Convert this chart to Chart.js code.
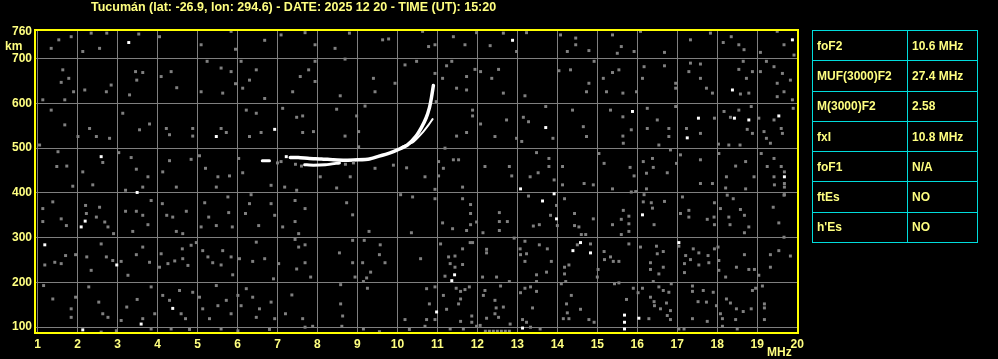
<!DOCTYPE html>
<html>
<head>
<meta charset="utf-8">
<script src="https://cdn.jsdelivr.net/npm/chart.js@4.4.1/dist/chart.umd.min.js"></script>
<style>
  html, body { margin: 0; padding: 0; background: #000; }
  #wrap { position: relative; width: 998px; height: 359px; background: #000; overflow: hidden; }
  #ionogram { position: absolute; left: 0; top: 0; }
  .lbl { position: absolute; color: #ffff80; font: bold 12px "Liberation Sans", Arial, sans-serif; line-height: 14px; white-space: nowrap; }
  #title { left: 91px; top: 0; font-size: 12.5px; }
  #km { left: 5px; top: 39px; }
  #mhz { left: 767px; top: 345px; }
  #params { position: absolute; left: 812px; top: 30px; border-collapse: collapse; table-layout: fixed; }
  #params td { border: 1px solid #00dcdc; height: 29.3px; padding: 0 0 0 4px; color: #ffff80;
               font: bold 12px "Liberation Sans", Arial, sans-serif; white-space: nowrap; }
  #params td.k { width: 90px; }
  #params td.v { width: 65px; }
</style>
</head>
<body>
<div id="wrap">
  <canvas id="ionogram" width="998" height="359"></canvas>
  <div class="lbl" id="title">Tucumán (lat: -26.9, lon: 294.6) - DATE: 2025 12 20 - TIME (UT): 15:20</div>
  <div class="lbl" id="km">km</div>
  <div class="lbl" id="mhz">MHz</div>
  <table id="params"></table>
</div>
<script>
// ionogram Tucumán
const freqTicks = [1, 2, 3, 4, 5, 6, 7, 8, 9, 10, 11, 12, 13, 14, 15, 16, 17, 18, 19, 20];
const heightTicks = [100, 200, 300, 400, 500, 600, 700, 760];

const paramNames = ['foF2', 'MUF(3000)F2', 'M(3000)F2', 'fxI', 'foF1', 'ftEs', "h'Es"];
const paramValues = ['10.6 MHz', '27.4 MHz', '2.58', '10.8 MHz', 'N/A', 'NO', 'NO'];

// traza F2 [MHz, km]
const traceStart = [[6.62, 472], [6.80, 472]];
const traceMain = [[7.32, 479], [7.52, 479], [7.8, 477], [8.1, 476], [8.4, 474], [8.7, 473], [9.0, 474],
  [9.3, 476], [9.5, 481], [9.8, 489], [10.0, 496], [10.25, 507], [10.45, 525], [10.6, 546],
  [10.72, 568], [10.8, 590], [10.85, 612], [10.9, 640]];
const traceLower = [[7.68, 463], [7.9, 462], [8.2, 463], [8.55, 467]];
const traceX = [[10.11, 503], [10.4, 514], [10.61, 533], [10.78, 552], [10.88, 565]];

const whiteEchoes = [[3.28, 736], [2.59, 481], [5.47, 526], [6.93, 542], [7.22, 481], [12.88, 741], [19.88, 742],
  [18.38, 630], [15.88, 582], [17.25, 523], [17.53, 567], [18.43, 567], [18.79, 563], [19.54, 572], [13.71, 546],
  [19.68, 436], [1.18, 284], [2.19, 337], [2.09, 324], [2.98, 239], [3.49, 401], [3.59, 107], [4.38, 142], [2.13, 94],
  [13.08, 409], [13.63, 382], [11.36, 204], [11.43, 217], [10.98, 134], [13.13, 98], [13.92, 398], [13.98, 342],
  [14.39, 271], [14.58, 289], [14.83, 266], [15.68, 127], [15.68, 111], [15.68, 96], [16.04, 120], [16.13, 351], [17.04, 289]];

const grayEchoes = [
  [1.53, 742], [1.84, 749], [2.34, 757], [2.73, 757], [3.53, 755], [4.05, 749], [5.09, 731], [5.84, 761], [5.95, 721], [6.68, 741],
  [7.09, 753], [1.34, 723], [2.13, 716], [2.55, 723], [1.63, 675], [1.59, 647], [1.78, 656], [1.9, 626], [1.68, 608], [1.13, 608],
  [2.18, 630], [2.72, 626], [2.84, 641], [3.3, 619], [3.45, 671], [3.63, 669], [3.48, 652], [4.09, 660], [4.34, 671], [4.48, 635],
  [5.09, 626], [5.24, 694], [5.59, 679], [5.84, 671], [5.63, 623], [5.95, 644], [6.13, 634], [6.3, 652], [6.47, 675], [6.68, 611],
  [6.09, 694], [1.34, 585], [1.68, 552], [2.3, 544], [2.01, 526], [2.47, 526], [2.8, 522], [3.13, 578], [3.55, 541], [3.8, 554],
  [4.22, 544], [4.3, 530], [4.88, 544], [4.88, 527], [5.72, 535], [5.59, 544], [6.3, 526], [6.59, 535], [7.13, 589], [6.22, 585],
  [6.47, 578], [1.05, 507], [1.51, 492], [1.48, 459], [1.73, 460], [2.13, 447], [2.63, 468], [3.03, 490], [3.34, 479], [3.47, 453],
  [3.76, 436], [4.13, 447], [4.3, 472], [4.84, 475], [5.05, 483], [5.2, 455], [5.51, 436], [5.8, 438], [6.03, 477], [6.13, 445],
  [7.09, 470], [7.0, 467], [7.45, 464], [7.6, 460], [8.7, 464], [8.9, 467],
  [7.69, 758], [7.94, 731], [8.44, 723], [8.8, 757], [9.63, 742], [9.78, 744], [10.63, 761], [10.78, 727], [10.94, 731], [11.4, 749],
  [11.69, 731], [11.98, 758], [12.32, 729], [12.65, 757], [12.98, 716], [13.23, 758], [7.94, 694], [7.57, 660], [7.78, 675], [7.94, 649],
  [8.69, 699], [9.4, 656], [9.44, 626], [9.94, 645], [10.19, 686], [10.48, 694], [10.94, 667], [11.13, 656], [11.23, 684], [11.36, 694],
  [11.73, 660], [11.48, 634], [11.73, 630], [11.94, 676], [12.08, 671], [12.36, 656], [12.53, 676], [12.65, 623], [13.19, 617], [7.38, 626],
  [8.57, 617], [7.48, 569], [7.63, 572], [8.48, 587], [8.98, 572], [9.19, 594], [7.63, 535], [7.9, 537], [9.03, 537], [8.69, 527],
  [10.97, 604], [11.88, 585], [11.88, 572], [12.08, 554], [12.44, 526], [12.73, 563], [13.15, 569], [13.28, 559], [12.98, 522], [13.11, 515],
  [11.73, 535], [11.48, 527], [11.19, 500], [11.03, 470], [11.15, 455], [11.03, 438], [11.4, 474], [11.53, 474], [12.19, 459], [12.8, 459],
  [12.86, 438], [13.52, 445], [13.32, 436], [13.48, 490], [9.03, 503], [9.9, 462], [10.23, 456], [10.69, 436], [8.07, 436], [8.82, 436], [9.44, 455],
  [14.08, 753], [14.46, 746], [14.46, 731], [14.25, 716], [14.79, 718], [15.38, 753], [15.6, 727], [15.5, 712], [15.92, 716], [16.08, 761],
  [16.68, 714], [17.33, 742], [17.83, 757], [18.15, 736], [18.35, 749], [18.54, 731], [18.67, 720], [19.08, 714], [19.5, 761], [19.67, 731],
  [19.92, 708], [14.04, 673], [14.33, 675], [14.79, 645], [14.73, 626], [14.92, 694], [15.38, 669], [15.15, 656], [15.54, 675], [15.23, 626],
  [15.64, 623], [15.98, 626], [16.17, 682], [16.13, 656], [16.68, 684], [16.96, 645], [16.96, 634], [17.33, 690], [17.58, 688], [17.29, 671],
  [17.58, 656], [17.73, 634], [17.88, 623], [18.54, 676], [18.73, 656], [18.65, 694], [18.88, 671], [18.58, 621], [18.79, 623], [19.08, 671],
  [19.23, 694], [19.42, 682], [19.63, 667], [19.5, 645], [19.5, 615], [19.83, 652], [19.88, 608], [19.67, 626], [13.71, 593], [14.38, 585],
  [14.65, 548], [14.73, 526], [13.89, 522], [15.33, 585], [15.64, 570], [15.85, 541], [15.64, 527], [15.65, 511], [16.25, 589], [16.5, 563],
  [16.25, 544], [16.79, 544], [16.79, 526], [16.54, 507], [16.96, 593], [17.23, 544], [17.58, 533], [17.93, 567], [18.17, 582], [18.33, 569],
  [18.54, 585], [18.85, 593], [18.75, 542], [18.88, 533], [19.04, 567], [19.17, 537], [19.23, 522], [19.33, 511], [19.42, 563], [19.6, 544],
  [19.63, 533], [19.9, 589], [18.57, 507], [18.29, 507], [18.03, 509], [13.79, 477], [13.79, 459], [13.92, 429], [14.13, 459], [15.04, 488],
  [15.17, 466], [15.82, 457], [15.92, 438], [16.15, 470], [16.23, 444], [16.38, 477], [16.4, 457], [16.75, 445], [16.83, 496], [16.98, 466],
  [17.08, 485], [17.58, 474], [18.04, 488], [18.23, 436], [18.46, 460], [18.71, 470], [18.92, 436], [19.1, 488], [19.25, 459], [19.42, 477],
  [19.6, 459], [19.42, 436], [19.68, 447],
  [1.88, 415], [2.38, 418], [3.2, 406], [3.63, 413], [4.47, 413], [5.47, 413], [6.34, 396], [6.84, 417], [7.18, 413], [1.38, 380],
  [1.13, 365], [1.13, 336], [1.72, 327], [1.59, 342], [2.2, 372], [2.22, 354], [2.47, 346], [2.55, 368], [2.68, 335], [2.76, 324],
  [2.9, 309], [3.2, 359], [3.47, 359], [3.63, 350], [3.76, 329], [3.38, 314], [3.84, 383], [4.12, 376], [4.23, 350], [4.38, 346],
  [4.63, 309], [4.72, 359], [4.47, 314], [5.09, 324], [5.18, 378], [5.28, 346], [5.47, 327], [5.76, 391], [5.78, 356], [5.87, 324],
  [6.2, 354], [6.3, 376], [6.53, 327], [6.84, 376], [6.93, 350], [7.13, 324], [1.18, 239], [1.59, 242], [1.43, 245], [1.7, 260],
  [1.95, 262], [2.23, 257], [2.34, 227], [2.59, 286], [2.72, 257], [2.88, 249], [3.09, 247], [3.26, 216], [3.47, 262], [3.63, 279],
  [3.8, 245], [4.05, 234], [4.09, 264], [4.26, 242], [4.43, 248], [4.62, 275], [4.63, 253], [4.76, 238], [4.84, 283], [4.97, 289],
  [5.13, 271], [5.26, 257], [5.38, 244], [5.63, 271], [5.59, 239], [5.84, 257], [5.88, 217], [6.05, 253], [6.38, 247], [6.47, 290],
  [6.68, 253], [6.9, 208], [7.03, 242], [1.15, 193], [1.38, 163], [1.84, 141], [1.84, 122], [1.95, 167], [2.28, 190], [2.53, 156],
  [2.63, 130], [2.76, 122], [3.09, 115], [3.23, 145], [3.49, 162], [3.63, 119], [3.84, 190], [3.93, 130], [4.13, 171], [4.3, 160],
  [4.55, 182], [4.59, 130], [4.7, 119], [4.88, 178], [5.05, 167], [5.13, 141], [5.3, 119], [5.47, 193], [5.51, 148], [5.72, 160],
  [5.84, 130], [6.01, 171], [6.09, 148], [6.22, 186], [6.38, 167], [6.47, 122], [6.55, 141], [6.84, 156], [6.93, 119], [7.2, 130],
  [2.59, 89], [2.97, 92], [3.84, 96], [4.34, 96], [4.8, 95], [5.59, 96], [6.01, 92], [6.8, 95],
  [7.48, 406], [8.48, 411], [10.94, 408], [11.63, 413], [13.28, 393], [7.44, 383], [7.69, 365], [7.44, 336], [7.53, 309], [8.73, 378],
  [8.88, 351], [9.29, 314], [10.08, 396], [10.38, 391], [10.35, 311], [10.94, 387], [11.13, 333], [11.38, 320], [11.63, 387], [11.83, 374],
  [11.83, 354], [11.83, 329], [11.73, 316], [11.98, 335], [12.14, 311], [12.55, 356], [12.55, 336], [12.75, 336], [12.55, 316], [12.92, 299],
  [13.19, 292], [13.4, 326], [13.55, 329], [7.44, 296], [7.69, 284], [7.53, 279], [7.48, 230], [7.69, 244], [7.83, 212], [8.55, 266],
  [8.88, 294], [8.88, 244], [9.17, 294], [9.13, 244], [9.57, 284], [9.55, 262], [9.69, 244], [9.33, 223], [9.23, 210], [8.94, 212],
  [9.15, 202], [10.58, 253], [11.08, 286], [11.28, 257], [11.32, 242], [11.44, 259], [11.44, 234], [11.63, 275], [11.63, 240], [11.19, 214],
  [11.82, 289], [11.88, 289], [12.23, 274], [12.23, 266], [12.13, 212], [12.48, 212], [12.8, 202], [13.07, 275], [13.08, 262], [13.23, 264],
  [13.19, 247], [13.48, 217], [13.55, 284], [13.48, 202], [7.36, 172], [7.63, 119], [7.69, 100], [7.88, 102], [8.58, 195], [8.58, 152],
  [8.63, 125], [8.61, 102], [9.15, 96], [9.25, 187], [9.55, 90], [10.19, 117], [10.3, 95], [10.73, 186], [10.8, 152], [10.69, 102],
  [10.73, 117], [10.94, 190], [10.94, 117], [11.15, 171], [11.23, 140], [11.32, 96], [11.47, 187], [11.53, 152], [11.58, 180], [11.69, 184],
  [11.8, 190], [11.58, 163], [11.58, 113], [11.65, 96], [11.86, 125], [11.86, 111], [11.98, 102], [12.07, 104], [12.15, 171], [12.23, 120],
  [12.19, 182], [12.58, 192], [12.44, 160], [12.47, 143], [12.44, 130], [12.53, 122], [12.65, 145], [12.82, 107], [13.08, 177], [13.19, 187],
  [13.33, 190], [13.48, 180], [13.38, 143], [13.13, 117], [13.23, 111], [13.33, 100], [13.57, 96],
  [12.2, 91], [12.3, 91], [12.4, 91], [12.5, 91], [12.6, 91], [12.7, 91], [12.8, 91],
  [14.13, 418], [14.67, 421], [14.9, 418], [15.38, 409], [15.85, 402], [15.96, 403], [16.17, 396], [16.23, 409], [17.58, 421], [17.88, 421],
  [18.21, 411], [18.25, 395], [18.71, 409], [19.43, 418], [19.68, 421], [19.68, 413], [19.68, 396], [14.18, 387], [13.98, 372], [13.83, 350],
  [14.0, 327], [14.43, 354], [14.43, 327], [14.54, 324], [14.9, 342], [14.6, 307], [14.71, 307], [15.38, 329], [15.6, 341], [15.79, 348],
  [15.79, 331], [15.65, 361], [15.6, 307], [15.79, 314], [16.15, 380], [16.35, 378], [16.38, 366], [16.68, 381], [16.42, 329], [17.13, 391],
  [17.08, 354], [17.29, 361], [17.29, 346], [17.75, 341], [17.93, 378], [17.92, 346], [17.93, 329], [18.08, 365], [18.29, 346], [18.32, 329],
  [18.4, 387], [18.58, 363], [18.68, 350], [18.79, 324], [18.68, 311], [19.4, 368], [19.54, 333], [19.67, 395], [19.67, 301], [13.75, 275],
  [13.85, 247], [13.73, 223], [14.18, 234], [14.18, 219], [14.29, 239], [14.21, 202], [14.5, 284], [14.83, 286], [15.02, 229], [15.0, 212],
  [15.17, 269], [15.18, 251], [15.33, 257], [15.4, 247], [15.54, 247], [15.79, 286], [16.08, 279], [16.33, 244], [16.33, 229], [16.48, 281],
  [16.5, 264], [16.65, 269], [16.54, 219], [16.65, 234], [16.4, 202], [17.04, 281], [17.21, 260], [17.18, 242], [17.18, 222], [17.33, 251],
  [17.4, 275], [17.54, 266], [17.54, 239], [17.77, 260], [17.79, 244], [17.93, 275], [18.04, 249], [18.04, 227], [18.02, 279], [18.21, 212],
  [18.48, 234], [18.68, 262], [18.79, 229], [18.93, 229], [19.04, 216], [19.33, 262], [19.33, 234], [19.54, 271], [19.83, 259], [14.1, 197],
  [14.23, 152], [14.25, 132], [14.15, 119], [14.29, 119], [14.35, 171], [14.58, 140], [14.79, 117], [14.92, 111], [15.43, 197], [15.54, 199],
  [15.73, 162], [15.9, 187], [16.13, 187], [16.02, 177], [16.29, 119], [16.33, 167], [16.42, 157], [16.43, 148], [16.54, 190], [16.65, 182],
  [16.58, 141], [16.73, 154], [16.75, 126], [16.83, 137], [16.79, 178], [16.85, 197], [16.83, 117], [17.04, 96], [17.17, 96], [17.38, 192],
  [17.38, 180], [17.38, 119], [17.52, 157], [17.65, 182], [17.73, 156], [17.75, 113], [17.9, 178], [17.98, 148], [18.08, 130], [18.13, 119],
  [18.13, 102], [18.23, 163], [18.33, 154], [18.48, 141], [18.46, 117], [18.65, 135], [18.85, 141], [18.88, 182], [18.96, 187], [19.13, 192],
  [19.18, 152], [19.18, 143], [19.18, 117], [18.5, 96]
];

const textColor = '#ffff80';
const gridColor = '#7f7f7f';
const axisFont = { family: '"Liberation Sans", Arial, sans-serif', size: 12, weight: 'bold' };

// tabla de parametros
const table = document.getElementById('params');
paramNames.forEach((name, i) => {
    const tr = document.createElement('tr');
    tr.innerHTML = '<td class="k"></td><td class="v"></td>';
    tr.children[0].textContent = name;
    tr.children[1].textContent = paramValues[i];
    table.appendChild(tr);
});

const toXY = arr => arr.map(p => ({ x: p[0], y: p[1] }));

function traceSet(arr, width) {
    return {
        data: toXY(arr), showLine: true, borderColor: '#ffffff', borderWidth: width,
        pointRadius: 0, tension: 0.2, borderCapStyle: 'round'
    };
}

function echoSet(arr, color) {
    return {
        data: toXY(arr), pointStyle: 'rect', pointRadius: 2.1, pointBorderWidth: 0,
        backgroundColor: color, borderColor: color, showLine: false
    };
}

// marco amarillo
const framePlugin = {
    id: 'frame',
    afterDraw(chart) {
        const a = chart.chartArea;
        const c = chart.ctx;
        c.save();
        c.strokeStyle = '#ffff00';
        c.lineWidth = 2;
        c.strokeRect(a.left - 1, a.top, a.right - a.left + 1, a.bottom - a.top);
        c.restore();
    }
};

new Chart(document.getElementById('ionogram').getContext('2d'), {
    type: 'scatter',
    data: {
        datasets: [
            echoSet(grayEchoes, '#808080'),
            echoSet(whiteEchoes, '#ffffff'),
            traceSet(traceStart, 3),
            traceSet(traceLower, 3),
            traceSet(traceMain, 3.5),
            traceSet(traceX, 2)
        ]
    },
    options: {
        responsive: false,
        animation: false,
        devicePixelRatio: 1,
        layout: { padding: { top: 30, right: 200, left: 0, bottom: 0 } },
        plugins: { legend: { display: false }, tooltip: { enabled: false } },
        scales: {
            x: {
                type: 'linear', min: 0.96, max: 20.02,
                afterBuildTicks: s => { s.ticks = freqTicks.map(v => ({ value: v })); },
                afterFit: s => { s.height = 26; },
                grid: { color: gridColor, lineWidth: 1, drawTicks: false },
                border: { display: false },
                ticks: { color: textColor, font: axisFont, padding: 4, maxRotation: 0, autoSkip: false }
            },
            y: {
                type: 'linear', min: 87, max: 764,
                afterBuildTicks: s => { s.ticks = heightTicks.map(v => ({ value: v })); },
                afterFit: s => { s.width = 36; },
                grid: {
                    color: ctx => (ctx.tick && ctx.tick.value === 760) ? 'rgba(0,0,0,0)' : gridColor,
                    lineWidth: 1, drawTicks: false
                },
                border: { display: false },
                ticks: { color: textColor, font: axisFont, padding: 4, autoSkip: false }
            }
        }
    },
    plugins: [framePlugin]
});
</script>
</body>
</html>
